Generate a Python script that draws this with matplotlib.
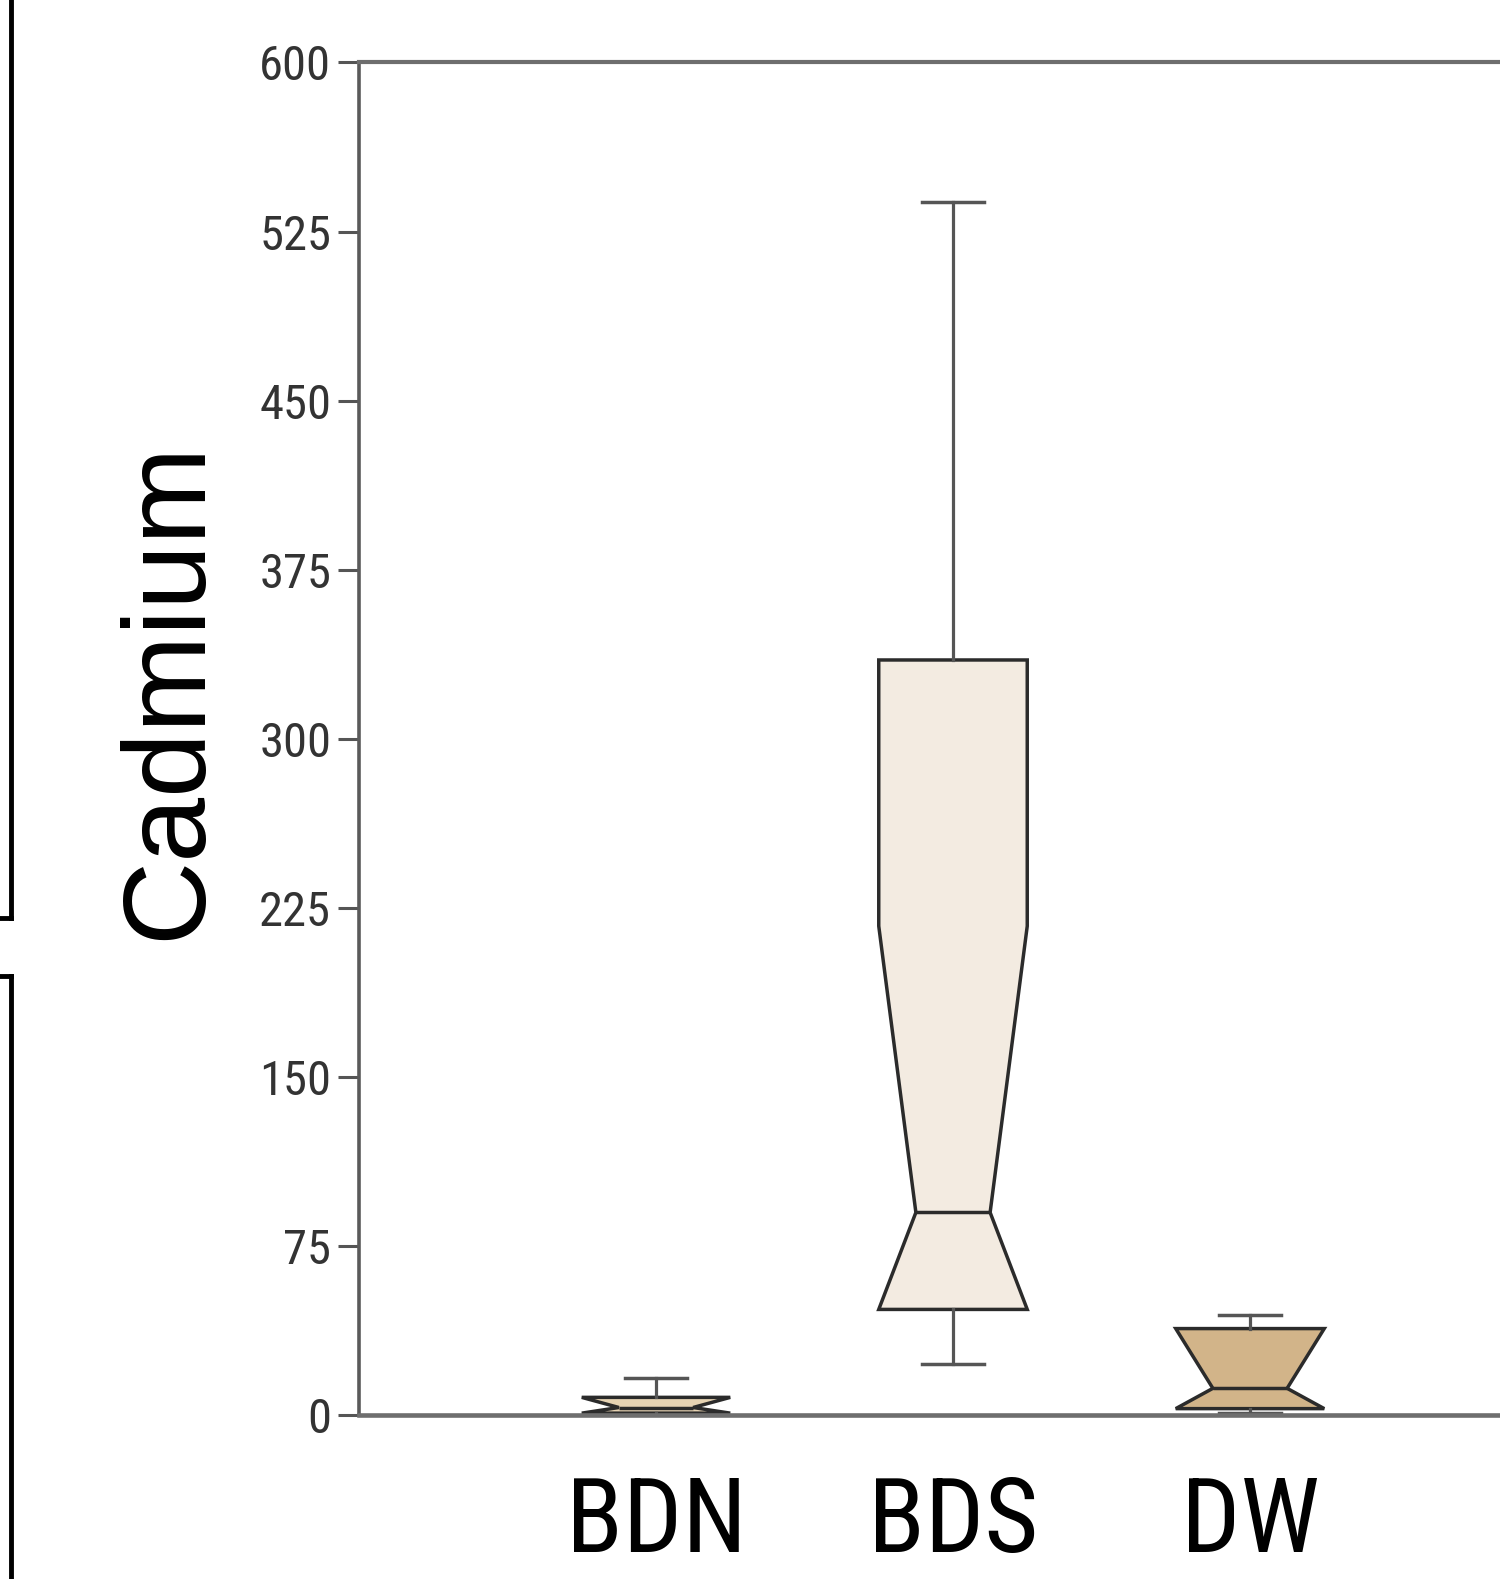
import matplotlib
matplotlib.use("Agg")
import matplotlib.pyplot as plt
from matplotlib.lines import Line2D

# ---- data ----
categories = ["BDN", "BDS", "DW"]
whislo = [0.3, 23, 1.0]
q1 = [1.0, 47, 3.0]
cilo = [1.0, 47, 3.0]
med = [3.5, 90, 12.0]
cihi = [8.0, 217, 38.5]
q3 = [8.0, 335, 38.5]
whishi = [16.5, 538, 44.5]
fills = ["#E6D3B3", "#F3EBE1", "#D2B489"]
yticks = [0, 75, 150, 225, 300, 375, 450, 525, 600]
ylabel = "Cadmium"

W, H = 1500, 1579
fig = plt.figure(figsize=(W / 100, H / 100), dpi=100)

left_px, top_px, bottom_px, unit_px = 359, 62.4, 1415.4, 297
ax = fig.add_axes([left_px / W, 1 - bottom_px / H, 4 * unit_px / W, (bottom_px - top_px) / H])

stats = []
for i, c in enumerate(categories):
    stats.append(dict(label=c, whislo=whislo[i], q1=q1[i], med=med[i], q3=q3[i],
                      whishi=whishi[i], cilo=cilo[i], cihi=cihi[i], fliers=[]))

bp = ax.bxp(stats, positions=[1, 2, 3], widths=0.5, capwidths=0.21,
            shownotches=True, patch_artist=True, showfliers=False,
            boxprops=dict(edgecolor="#2b2b2b", linewidth=2.5),
            medianprops=dict(color="#2b2b2b", linewidth=2.5),
            whiskerprops=dict(color="#555555", linewidth=2.3),
            capprops=dict(color="#555555", linewidth=2.5))
for patch, fc in zip(bp["boxes"], fills):
    patch.set_facecolor(fc)

ax.set_xlim(0, 4)
ax.set_ylim(0, 600)
ax.set_yticks(yticks)
ax.set_yticklabels([str(t) for t in yticks])
ax.set_xticks([1, 2, 3])
ax.set_xticklabels(categories)

narrow = ["Roboto Condensed", "DejaVu Sans"]
for lab in ax.get_yticklabels():
    lab.set_fontfamily(narrow)
    lab.set_fontsize(35)
    lab.set_color("#333333")
for lab in ax.get_xticklabels():
    lab.set_fontfamily(narrow)
    lab.set_fontsize(75)
    lab.set_color("black")

ax.tick_params(axis="y", length=15, width=2.2, color="#555555", pad=5, direction="out")
ax.tick_params(axis="x", length=0, pad=42)

ax.spines["right"].set_visible(False)
ax.spines["top"].set_color("#6e6e6e")
ax.spines["top"].set_linewidth(3)
ax.spines["bottom"].set_color("#6e6e6e")
ax.spines["bottom"].set_linewidth(3.3)
ax.spines["left"].set_color("#5a5a5a")
ax.spines["left"].set_linewidth(2.6)

fig.text(170 / W, 1 - 690 / H, ylabel, rotation=90, ha="center", va="center",
         fontsize=84, family=["Liberation Sans", "DejaVu Sans"], color="black")

# frame lines of the neighbouring panels on the left
lw = 3.5
fig.add_artist(Line2D([10.5 / W, 10.5 / W], [1.0, 1 - 918 / H], transform=fig.transFigure, color="black", lw=lw))
fig.add_artist(Line2D([0, 10.5 / W], [1 - 918 / H, 1 - 918 / H], transform=fig.transFigure, color="black", lw=lw))
fig.add_artist(Line2D([10.5 / W, 10.5 / W], [1 - 976 / H, 0], transform=fig.transFigure, color="black", lw=lw))
fig.add_artist(Line2D([0, 10.5 / W], [1 - 976 / H, 1 - 976 / H], transform=fig.transFigure, color="black", lw=lw))

fig.savefig("out.png", dpi=100)
